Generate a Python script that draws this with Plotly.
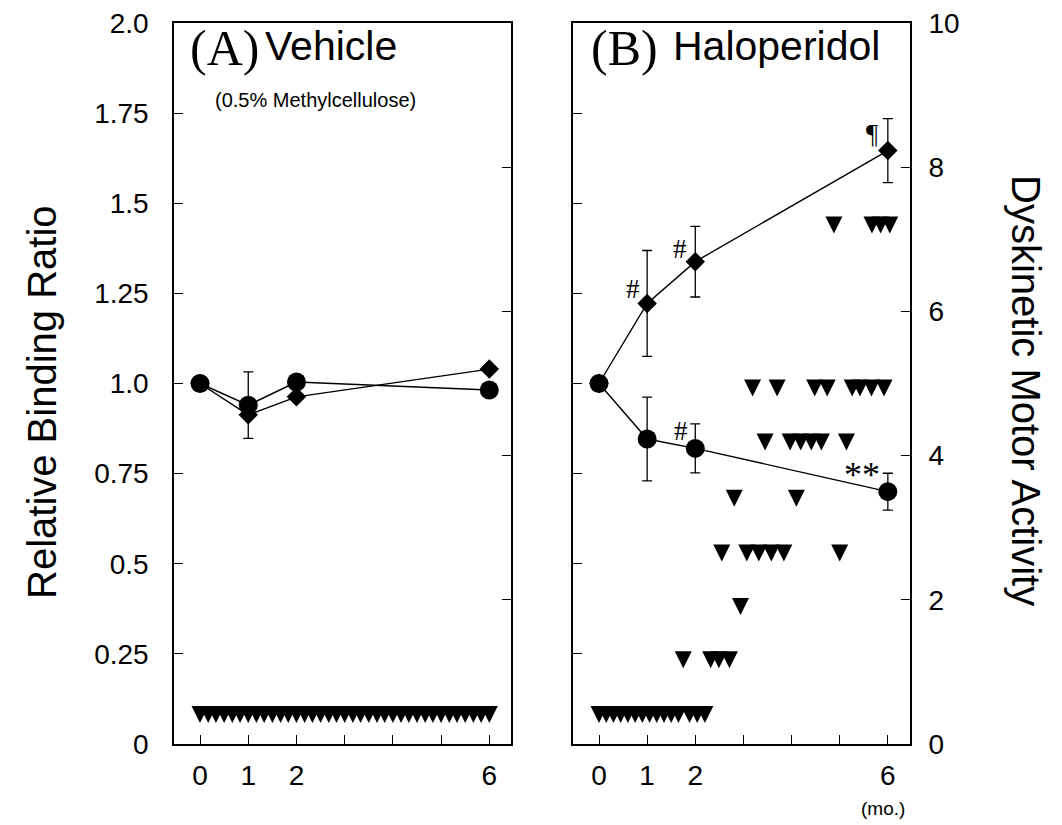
import plotly.graph_objects as go

W, H = 1062, 825

# ---------------- data ----------------
months = [0, 1, 2, 6]

# Panel A: Vehicle (relative binding ratio)
A_circle = [1.0, 0.940, 1.004, 0.982]
A_circle_err = [0, 0.092, 0, 0]
A_diamond = [1.0, 0.913, 0.963, 1.040]

# Panel B: Haloperidol (relative binding ratio)
B_diamond = [1.0, 1.222, 1.338, 1.646]
B_diamond_err = [0, 0.147, 0.098, 0.089]
B_circle = [1.0, 0.846, 0.820, 0.700]
B_circle_err = [0, 0.116, 0.068, 0.051]

# Dyskinetic motor activity (right axis), individual observations
A_tri_x = [0, 0.17, 0.33, 0.5, 0.67, 0.83, 1.0, 1.17, 1.33, 1.5, 1.67, 1.83,
           2.0, 2.17, 2.33, 2.5, 2.67, 2.83, 3.0, 3.17, 3.33, 3.5, 3.67, 3.83,
           4.0, 4.17, 4.33, 4.5, 4.67, 4.83, 5.0, 5.17, 5.33, 5.5, 5.67, 5.83, 6.0]
A_tri_y = [0.29, 0.29, 0.29, 0.29, 0.29, 0.29, 0.29, 0.29, 0.29, 0.29, 0.29, 0.29,
           0.29, 0.29, 0.29, 0.29, 0.29, 0.29, 0.29, 0.29, 0.29, 0.29, 0.29, 0.29,
           0.29, 0.29, 0.29, 0.29, 0.29, 0.29, 0.29, 0.29, 0.29, 0.29, 0.29, 0.29, 0.29]

B_tri_x = [0, 0.15, 0.3, 0.45, 0.6, 0.75, 0.9, 1.05, 1.2, 1.35, 1.5, 1.65, 1.88, 2.04, 2.2,
           1.75, 2.32, 2.49, 2.71,
           2.94,
           2.55, 3.07, 3.32, 3.58, 3.84, 5.0,
           2.81, 4.10,
           3.45, 3.97, 4.19, 4.41, 4.62, 5.14,
           3.19, 3.70, 4.48, 4.74, 5.26, 5.42, 5.66, 5.92,
           4.88, 5.67, 5.85, 6.04]
B_tri_y = [0.29, 0.29, 0.29, 0.29, 0.29, 0.29, 0.29, 0.29, 0.29, 0.29, 0.29, 0.29, 0.29, 0.29, 0.29,
           1.05, 1.05, 1.05, 1.05,
           1.79,
           2.53, 2.53, 2.53, 2.53, 2.53, 2.53,
           3.29, 3.29,
           4.07, 4.07, 4.07, 4.07, 4.07, 4.07,
           4.82, 4.82, 4.82, 4.82, 4.82, 4.82, 4.82, 4.82,
           7.08, 7.08, 7.08, 7.08]

x_ticks = [0, 1, 2, 3, 4, 5, 6]
x_ticktext = ["0", "1", "2", "", "", "", "6"]
yl_ticks = [0, 0.25, 0.5, 0.75, 1.0, 1.25, 1.5, 1.75, 2.0]
yl_ticktext = ["0", "0.25", "0.5", "0.75", "1.0", "1.25", "1.5", "1.75", "2.0"]
yr_ticks = [0, 2, 4, 6, 8, 10]
yr_ticktext = ["0", "2", "4", "6", "8", "10"]

# ---------------- styling ----------------
SANS = "Liberation Sans, Arial, sans-serif"
SERIF = "Liberation Serif, Times New Roman, serif"
BLACK = "black"
TICKFONT = dict(family=SANS, size=28, color=BLACK)

fig = go.Figure()


def line_trace(x, y, sym, size, xa, ya, err=None):
    t = go.Scatter(
        x=x, y=y, mode="lines+markers", xaxis=xa, yaxis=ya,
        line=dict(color=BLACK, width=1.4),
        marker=dict(symbol=sym, size=size, color=BLACK, line=dict(width=0)),
        showlegend=False, cliponaxis=False,
    )
    if err is not None:
        t.error_y = dict(type="data", array=err, visible=True, color=BLACK,
                         thickness=1.3, width=5)
    return t


def tri_trace(x, y, xa, ya):
    return go.Scatter(
        x=x, y=y, mode="markers", xaxis=xa, yaxis=ya,
        marker=dict(symbol="arrow-down", size=17, color=BLACK, line=dict(width=0)),
        showlegend=False, cliponaxis=False,
    )


# Panel A
fig.add_trace(line_trace(months, A_diamond, "diamond", 15, "x", "y"))
fig.add_trace(line_trace(months, A_circle, "circle", 19, "x", "y", A_circle_err))
fig.add_trace(tri_trace(A_tri_x, A_tri_y, "x", "y2"))

# Panel B
fig.add_trace(line_trace(months, B_diamond, "diamond", 15, "x2", "y3", B_diamond_err))
fig.add_trace(line_trace(months, B_circle, "circle", 19, "x2", "y3", B_circle_err))
fig.add_trace(tri_trace(B_tri_x, B_tri_y, "x2", "y4"))

ydom = [81 / H, 802 / H]
xdomA = [174 / W, 511 / W]
xdomB = [573 / W, 909.5 / W]
xrange_ = [-0.54, 6.45]

common_x = dict(range=xrange_, tickvals=x_ticks, ticktext=x_ticktext, ticks="inside",
                ticklen=9, tickwidth=1.3, tickcolor=BLACK, showline=True, mirror=True,
                linecolor=BLACK, linewidth=1.5, showgrid=False, zeroline=False,
                tickfont=TICKFONT, ticklabelstandoff=6, automargin=False)
common_yl = dict(range=[0, 2], tickvals=yl_ticks, ticktext=yl_ticktext, ticks="inside",
                 ticklen=9, tickwidth=1.3, tickcolor=BLACK, showline=True, mirror=True,
                 linecolor=BLACK, linewidth=1.5, showgrid=False, zeroline=False,
                 tickfont=TICKFONT, domain=ydom, ticklabelstandoff=18, automargin=False)
common_yr = dict(range=[0, 10], tickvals=yr_ticks, ticktext=yr_ticktext, ticks="inside",
                 ticklen=9, tickwidth=1.3, tickcolor=BLACK, showline=False,
                 showgrid=False, zeroline=False, tickfont=TICKFONT, side="right",
                 ticklabelstandoff=18, automargin=False)

fig.update_layout(
    width=W, height=H,
    margin=dict(l=0, r=0, t=0, b=0, autoexpand=False),
    paper_bgcolor="white", plot_bgcolor="white",
    xaxis=dict(domain=xdomA, anchor="y", **common_x),
    xaxis2=dict(domain=xdomB, anchor="y3", **common_x),
    yaxis=dict(anchor="x", **common_yl),
    yaxis2=dict(anchor="x", overlaying="y", showticklabels=False, **common_yr),
    yaxis3=dict(anchor="x2", showticklabels=False, **common_yl),
    yaxis4=dict(anchor="x2", overlaying="y3", showticklabels=True, **common_yr),
)


def ann_px(text, px, py, family, size, xanchor="left", yanchor="middle", angle=0):
    fig.add_annotation(text=text, x=px / W, y=1 - py / H, xref="paper", yref="paper",
                       showarrow=False, xanchor=xanchor, yanchor=yanchor,
                       font=dict(family=family, size=size, color=BLACK),
                       textangle=angle)


# Panel titles
ann_px("(A)", 188, 48, SERIF, 50)
ann_px("Vehicle", 263, 46, SANS, 41)
ann_px("(0.5% Methylcellulose)", 315, 100, SANS, 20, xanchor="center")
ann_px("(B)", 589, 48, SERIF, 50)
ann_px("Haloperidol", 671, 46, SANS, 41)

# Axis titles
ann_px("Relative Binding Ratio", 42, 402, SANS, 40, xanchor="center", angle=-90)
ann_px("Dyskinetic Motor Activity", 1026, 390, SANS, 40, xanchor="center", angle=90)
ann_px("(mo.)", 883, 808, SANS, 19, xanchor="center")


def ann_data(text, x, y, xa, ya, family, size):
    fig.add_annotation(text=text, x=x, y=y, xref=xa, yref=ya, showarrow=False,
                       xanchor="center", yanchor="middle",
                       font=dict(family=family, size=size, color=BLACK))


# Significance marks (panel B)
ann_data("#", 0.71, 1.262, "x2", "y3", SERIF, 27)
ann_data("#", 1.68, 1.373, "x2", "y3", SERIF, 27)
ann_data("¶", 5.67, 1.692, "x2", "y3", SERIF, 27)
ann_data("#", 1.70, 0.868, "x2", "y3", SERIF, 27)
ann_data("**", 5.46, 0.745, "x2", "y3", SERIF, 36)

fig.write_html("out.html")
